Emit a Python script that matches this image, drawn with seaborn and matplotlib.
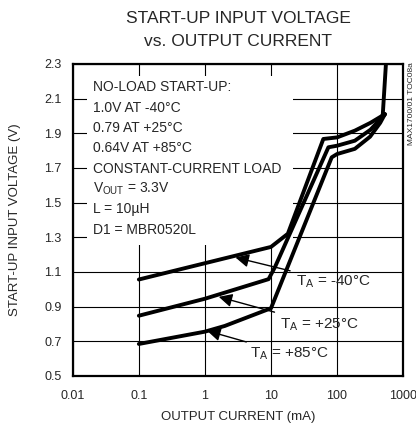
import numpy as np
import pandas as pd
import matplotlib
matplotlib.use("Agg")
import matplotlib.pyplot as plt
from matplotlib.patches import Rectangle
import seaborn as sns

# output current (mA) / start-up input voltage (V)
cur_m40 = [0.1, 1, 10, 18, 62, 100, 186, 320, 530, 490, 560]
vin_m40 = [1.056, 1.15, 1.244, 1.32, 1.867, 1.876, 1.915, 1.96, 2.01, 1.995, 2.35]
cur_p25 = [0.1, 1, 9.2, 11.5, 74, 100, 186, 320, 530]
vin_p25 = [0.847, 0.945, 1.058, 1.128, 1.819, 1.828, 1.857, 1.92, 2.01]
cur_p85 = [0.1, 1, 2, 8, 10, 83, 100, 186, 316, 450, 530]
vin_p85 = [0.684, 0.755, 0.788, 0.876, 0.89, 1.761, 1.78, 1.81, 1.88, 1.96, 2.01]

x_ticks = [0.01, 0.1, 1, 10, 100, 1000]
x_tick_labels = ["0.01", "0.1", "1", "10", "100", "1000"]
y_ticks = [0.5, 0.7, 0.9, 1.1, 1.3, 1.5, 1.7, 1.9, 2.1, 2.3]

notes = ["NO-LOAD START-UP:", "1.0V AT -40°C", "0.79 AT +25°C", "0.64V AT +85°C",
         "CONSTANT-CURRENT LOAD", r"V$_{\rm OUT}$ = 3.3V", "L = 10µH", "D1 = MBR0520L"]

sns.set_style("white")
plt.rcParams["font.family"] = ["Liberation Sans", "DejaVu Sans"]
plt.rcParams["mathtext.fontset"] = "custom"
plt.rcParams["mathtext.rm"] = "Liberation Sans"
plt.rcParams["mathtext.it"] = "Liberation Sans:italic"

fig = plt.figure(figsize=(4.16, 4.32), dpi=100)
ax = fig.add_axes([0.175, 0.130, 0.794, 0.722])

curves = [(cur_m40, vin_m40), (cur_p25, vin_p25), (cur_p85, vin_p85)]
for xs, ys in curves:
    df = pd.DataFrame({"i": xs, "v": ys})
    sns.lineplot(data=df, x="i", y="v", ax=ax, color="black", lw=2.8,
                 sort=False, estimator=None, zorder=3)

ax.set_xscale("log")
ax.set_xlim(0.01, 1000)
ax.set_ylim(0.5, 2.3)
ax.set_xticks(x_ticks)
ax.set_xticklabels(x_tick_labels)
ax.set_yticks(y_ticks)
ax.set_yticklabels([f"{v:.1f}" for v in y_ticks])
ax.minorticks_off()
ax.tick_params(length=0, labelsize=9)
ax.tick_params(axis="x", pad=10)
ax.tick_params(axis="y", pad=8)
ax.set_axisbelow(True)
ax.grid(True, color="black", lw=0.8)
for s in ax.spines.values():
    s.set_color("black")
    s.set_linewidth(1.6)

# white box behind the notes hides the grid
ax.add_patch(Rectangle((0.042, 0.419), 0.625, 0.543, transform=ax.transAxes,
                       facecolor="white", edgecolor="none", zorder=1))
for k, line in enumerate(notes):
    ax.text(0.062, 0.925 - k * 0.0652, line, transform=ax.transAxes,
            fontsize=10, va="center", ha="left", zorder=4)

labels = [(r"T$_{\rm A}$ = -40°C", (24, 1.045), (2.9, 1.183)),
          (r"T$_{\rm A}$ = +25°C", (13.5, 0.797), (1.62, 0.956)),
          (r"T$_{\rm A}$ = +85°C", (4.8, 0.625), (1.08, 0.76))]
for txt, xy_text, xy in labels:
    ax.annotate(txt, xy=xy, xytext=xy_text, fontsize=11, va="center", ha="left",
                arrowprops=dict(arrowstyle="-|>", color="black", lw=1.0,
                                mutation_scale=20, shrinkA=2, shrinkB=0),
                zorder=5)

ax.set_xlabel("OUTPUT CURRENT (mA)", fontsize=9.5, labelpad=7)
ax.set_ylabel("START-UP INPUT VOLTAGE (V)", fontsize=9.5, labelpad=17)
fig.text(0.572, 0.958, "START-UP INPUT VOLTAGE", ha="center", va="center", fontsize=12.5)
fig.text(0.572, 0.903, "vs. OUTPUT CURRENT", ha="center", va="center", fontsize=12.5)
fig.text(0.988, 0.855, "MAX1700/01 TOC08a", rotation=90, ha="center", va="top", fontsize=6)

fig.savefig("out.png", dpi=100)
